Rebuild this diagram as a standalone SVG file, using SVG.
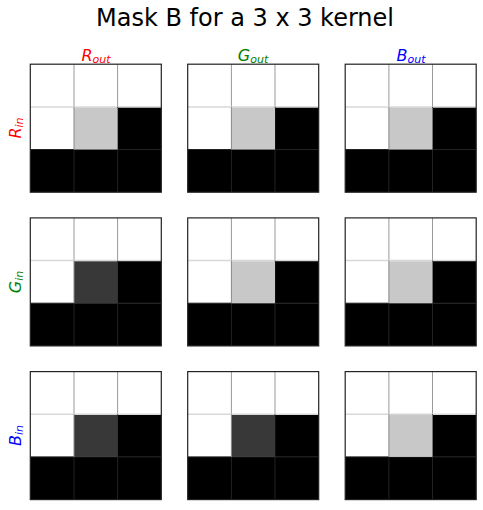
<svg xmlns="http://www.w3.org/2000/svg" width="483" height="510" viewBox="0 0 483 510">
<defs>
<style>
.t{font-family:"DejaVu Sans",sans-serif;font-size:24px;fill:#000}
.lab{font-family:"DejaVu Sans",sans-serif;font-style:italic;font-size:16px}
.sub{font-size:11px}
.w{fill:#fff}
.k{fill:#000}
.g{fill:#c8c8c8}
.d{fill:#383838}
.lw{stroke:#999;stroke-width:1;fill:none}
.ll{stroke:#d8d8d8;stroke-width:1.5;fill:none}
.ld{stroke:#222;stroke-width:1;fill:none}
.fr{stroke:#222;stroke-width:1.2;fill:none}
</style>
<g id="cellgrid">
<rect class="w" x="0" y="0" width="131" height="85.3"/>
<rect class="k" x="87.3" y="42.7" width="43.7" height="42.6"/>
<rect class="k" x="0" y="85.3" width="131" height="42.7"/>
<line class="lw" x1="43.7" y1="0" x2="43.7" y2="42.7"/>
<line class="lw" x1="87.3" y1="0" x2="87.3" y2="42.7"/>
<line class="ll" x1="0" y1="42.7" x2="131" y2="42.7"/>
<line class="ld" x1="0" y1="85.3" x2="131" y2="85.3"/>
<line class="ld" x1="87.3" y1="42.7" x2="87.3" y2="128"/>
<line class="ld" x1="43.7" y1="85.3" x2="43.7" y2="128"/>
</g>
<g id="panelG">
<use href="#cellgrid"/>
<rect class="g" x="43.7" y="43.4" width="43.6" height="41.9"/>
<line stroke="#888" stroke-width="1" x1="43.7" y1="42.7" x2="43.7" y2="85.3"/>
<rect class="fr" x="0" y="0" width="131" height="128"/>
</g>
<g id="panelD">
<use href="#cellgrid"/>
<rect class="d" x="43.7" y="43.4" width="43.6" height="41.9"/>
<line stroke="#888" stroke-width="1" x1="43.7" y1="42.7" x2="43.7" y2="85.3"/>
<rect class="fr" x="0" y="0" width="131" height="128"/>
</g>
</defs>
<text class="t" x="245" y="26" text-anchor="middle">Mask B for a 3 x 3 kernel</text>
<g id="col-labels">
<text class="lab" x="96" y="60.5" text-anchor="middle" fill="#ff0000">R<tspan class="sub" dy="2.5">out</tspan></text>
<text class="lab" x="253" y="60.5" text-anchor="middle" fill="#008000">G<tspan class="sub" dy="2.5">out</tspan></text>
<text class="lab" x="411" y="60.5" text-anchor="middle" fill="#0000ff">B<tspan class="sub" dy="2.5">out</tspan></text>
</g>
<g id="row-labels">
<text class="lab" transform="translate(20.5,128) rotate(-90)" text-anchor="middle" fill="#ff0000">R<tspan class="sub" dy="2.5">in</tspan></text>
<text class="lab" transform="translate(20.5,282) rotate(-90)" text-anchor="middle" fill="#008000">G<tspan class="sub" dy="2.5">in</tspan></text>
<text class="lab" transform="translate(20.5,435.5) rotate(-90)" text-anchor="middle" fill="#0000ff">B<tspan class="sub" dy="2.5">in</tspan></text>
</g>
<g id="node-Rin-Rout" transform="translate(30.3,64.2)"><use href="#panelG"/></g>
<g id="node-Rin-Gout" transform="translate(187.7,64.2)"><use href="#panelG"/></g>
<g id="node-Rin-Bout" transform="translate(345.2,64.2)"><use href="#panelG"/></g>
<g id="node-Gin-Rout" transform="translate(30.3,217.9)"><use href="#panelD"/></g>
<g id="node-Gin-Gout" transform="translate(187.7,217.9)"><use href="#panelG"/></g>
<g id="node-Gin-Bout" transform="translate(345.2,217.9)"><use href="#panelG"/></g>
<g id="node-Bin-Rout" transform="translate(30.3,371.6)"><use href="#panelD"/></g>
<g id="node-Bin-Gout" transform="translate(187.7,371.6)"><use href="#panelD"/></g>
<g id="node-Bin-Bout" transform="translate(345.2,371.6)"><use href="#panelG"/></g>
<g id="connectors"/>
</svg>
